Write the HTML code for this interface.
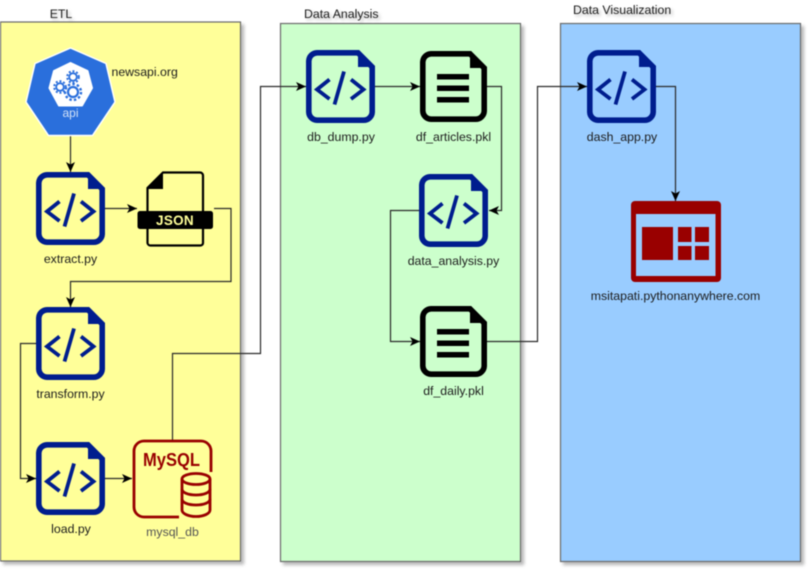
<!DOCTYPE html>
<html><head><meta charset="utf-8"><style>
html,body{margin:0;padding:0;background:#fff;width:812px;height:573px;overflow:hidden}
svg{display:block;filter:blur(.55px)}
text{font-family:"Liberation Sans",sans-serif;font-size:12.300px;fill:#1c1c1c}
.m{text-anchor:middle}
.t{filter:drop-shadow(2px 2px 1.5px rgba(0,0,0,.3))}
.c{fill:none;stroke:#2a2a2a;stroke-width:1.200}
</style></head><body>
<svg width="812" height="573" viewBox="0 0 812 573" xmlns="http://www.w3.org/2000/svg">
<defs>
<filter id="sh" x="-5%" y="-5%" width="112%" height="112%"><feDropShadow dx="3" dy="3" stdDeviation="1.500" flood-color="#000" flood-opacity=".28"/></filter>
<marker id="a" markerWidth="12" markerHeight="12" refX="10" refY="5" orient="auto" markerUnits="userSpaceOnUse"><path d="M0 0.500L10 5L0 9.500L2.500 5Z" fill="#000"/></marker>
<symbol id="script" width="69" height="73" viewBox="0 0 69 73" overflow="visible">
<path d="M11 2.800H52L66.200 17V62A8.500 8.500 0 0 1 57.700 70.200H11A8.500 8.500 0 0 1 2.800 62V11A8.500 8.500 0 0 1 11 2.800Z" fill="none" stroke="#001d8e" stroke-width="5.600"/>
<path d="M52 1V17H68L68 16L53 1Z" fill="#001d8e"/>
<path d="M23.500 29.500L11 39.500L23.500 49M45 29.500L57.500 39.500L45 49M38 21.500L28.500 54.500" fill="none" stroke="#001d8e" stroke-width="3.800"/>
</symbol>
<symbol id="doc" width="67" height="71" viewBox="0 0 67 71" overflow="visible">
<path d="M11 2.800H50L64.200 17V60A8.500 8.500 0 0 1 55.700 68.200H11A8.500 8.500 0 0 1 2.800 60V11A8.500 8.500 0 0 1 11 2.800Z" fill="none" stroke="#000" stroke-width="5.600"/>
<path d="M50 1V17H66L51 1Z" fill="#000"/>
<path d="M17 23h32v5.500H17zM17 34.500h32v5.500H17zM17 46h32v5.500H17z" fill="#000"/>
</symbol>
</defs>

<rect x="0.500" y="22" width="240" height="539" fill="#ffff99" stroke="#6b6b6b" stroke-width="1.200" filter="url(#sh)"/>
<rect x="280.500" y="23.500" width="240" height="538" fill="#ccffcc" stroke="#6b6b6b" stroke-width="1.200" filter="url(#sh)"/>
<rect x="560.500" y="23.500" width="240" height="538" fill="#99ccff" stroke="#6b6b6b" stroke-width="1.200" filter="url(#sh)"/>

<g class="t">
<text x="61" y="18" class="m">ETL</text>
<text x="304" y="18">Data Analysis</text>
<text x="573" y="14">Data Visualization</text>
</g>

<!-- connectors -->
<g class="c">
<path d="M70.500 136V172" marker-end="url(#a)"/>
<path d="M105 208.500H137" marker-end="url(#a)"/>
<path d="M214 208.500H231V281.500H70.500V307" marker-end="url(#a)"/>
<path d="M36 343.500H20.500V478.500H36" marker-end="url(#a)"/>
<path d="M105 478.500H132" marker-end="url(#a)"/>
<path d="M172.500 440V353.500H260.500V86.500H306" marker-end="url(#a)"/>
<path d="M375 86.500H420" marker-end="url(#a)"/>
<path d="M487 86.500H501.500V210.500H489" marker-end="url(#a)"/>
<path d="M419 210.500H390.500V341.500H420" marker-end="url(#a)"/>
<path d="M487 341.500H537.500V86.500H587" marker-end="url(#a)"/>
<path d="M656 86.500H675.500V201" marker-end="url(#a)"/>
</g>

<!-- API -->
<path d="M70.500 48L106 63.500L115 102L92.500 135.500H48.500L26 102L35 63.500Z" fill="#2a6fdc" stroke="#fff" stroke-width="1.500" stroke-linejoin="round"/>
<path d="M70.500 63L87.500 71L92 88L82 105.500H59L49.500 88L54 71Z" fill="#fff" stroke="#fff" stroke-width="2" stroke-linejoin="round"/>
<g fill="none" stroke="#2a6fdc">
<circle cx="73" cy="77" r="3.800" stroke-width="1.800"/><circle cx="73" cy="77" r="5.800" stroke-width="2" stroke-dasharray="2 1.800"/>
<circle cx="60" cy="87" r="3.800" stroke-width="1.800"/><circle cx="60" cy="87" r="5.800" stroke-width="2" stroke-dasharray="2 1.800"/>
<circle cx="73" cy="92" r="5" stroke-width="2.200"/><circle cx="73" cy="92" r="8" stroke-width="2.400" stroke-dasharray="2.400 2.200"/>
</g>
<text x="70.500" y="117" class="m" style="fill:#d3e2f7;font-size:12px">api</text>
<text x="111.500" y="76">newsapi.org</text>

<!-- scripts -->
<use href="#script" x="36" y="172"/>
<use href="#script" x="36" y="307"/>
<use href="#script" x="36" y="442"/>
<use href="#script" x="306" y="50"/>
<use href="#script" x="419" y="174"/>
<use href="#script" x="587" y="50"/>

<use href="#doc" x="420" y="51"/>
<use href="#doc" x="420" y="306"/>

<!-- JSON -->
<path d="M163 172.500H200A3 3 0 0 1 203 175.500V243A2.500 2.500 0 0 1 200.500 245.500H150.500A3 3 0 0 1 147.500 243V188Z" fill="none" stroke="#000" stroke-width="2.200"/>
<path d="M147 189L163 172V189Z" fill="#000"/>
<rect x="137.500" y="211" width="75.500" height="18" rx="2.500" fill="#000"/>
<text x="175" y="225" class="m" style="font-size:13.500px;font-weight:bold;fill:#ffff99;letter-spacing:.3px">JSON</text>

<!-- MySQL -->
<path d="M179 517H144A10 10 0 0 1 134 507V451A10 10 0 0 1 144 441H201A10 10 0 0 1 211 451V472" fill="none" stroke="#990000" stroke-width="2.800"/>
<text x="143" y="466" textLength="57" lengthAdjust="spacingAndGlyphs" style="font-size:18px;font-weight:bold;fill:#990000">MySQL</text>
<g fill="none" stroke="#990000" stroke-width="2.800">
<ellipse cx="196" cy="479" rx="14" ry="5.500" fill="#ffff99"/>
<path d="M182 479V510C182 513.500 188 516.500 196 516.500S210 513.500 210 510V479"/>
<path d="M182 489C182 492.500 188 495 196 495S210 492.500 210 489M182 499C182 502.500 188 505 196 505S210 502.500 210 499"/>
</g>

<!-- dashboard -->
<rect x="631" y="201" width="90" height="81" rx="4" fill="#990000"/>
<rect x="636" y="214" width="79.500" height="62" fill="#99ccff"/>
<path d="M642 227h31v33h-31zM678 227h13.500v15H678zM695 227h14v15h-14zM678 246h13.500v14H678zM695 246h14v14h-14z" fill="#990000"/>

<!-- labels -->
<text x="70.500" y="263" class="m">extract.py</text>
<text x="70.500" y="398" class="m">transform.py</text>
<text x="71" y="533" class="m">load.py</text>
<text x="172.500" y="536" class="m" style="fill:#555">mysql_db</text>
<text x="341" y="141" class="m">db_dump.py</text>
<text x="453.500" y="141" class="m">df_articles.pkl</text>
<text x="453.500" y="265" class="m">data_analysis.py</text>
<text x="453.500" y="395" class="m">df_daily.pkl</text>
<text x="622" y="141" class="m">dash_app.py</text>
<text x="675.500" y="300" class="m">msitapati.pythonanywhere.com</text>
</svg>
</body></html>
